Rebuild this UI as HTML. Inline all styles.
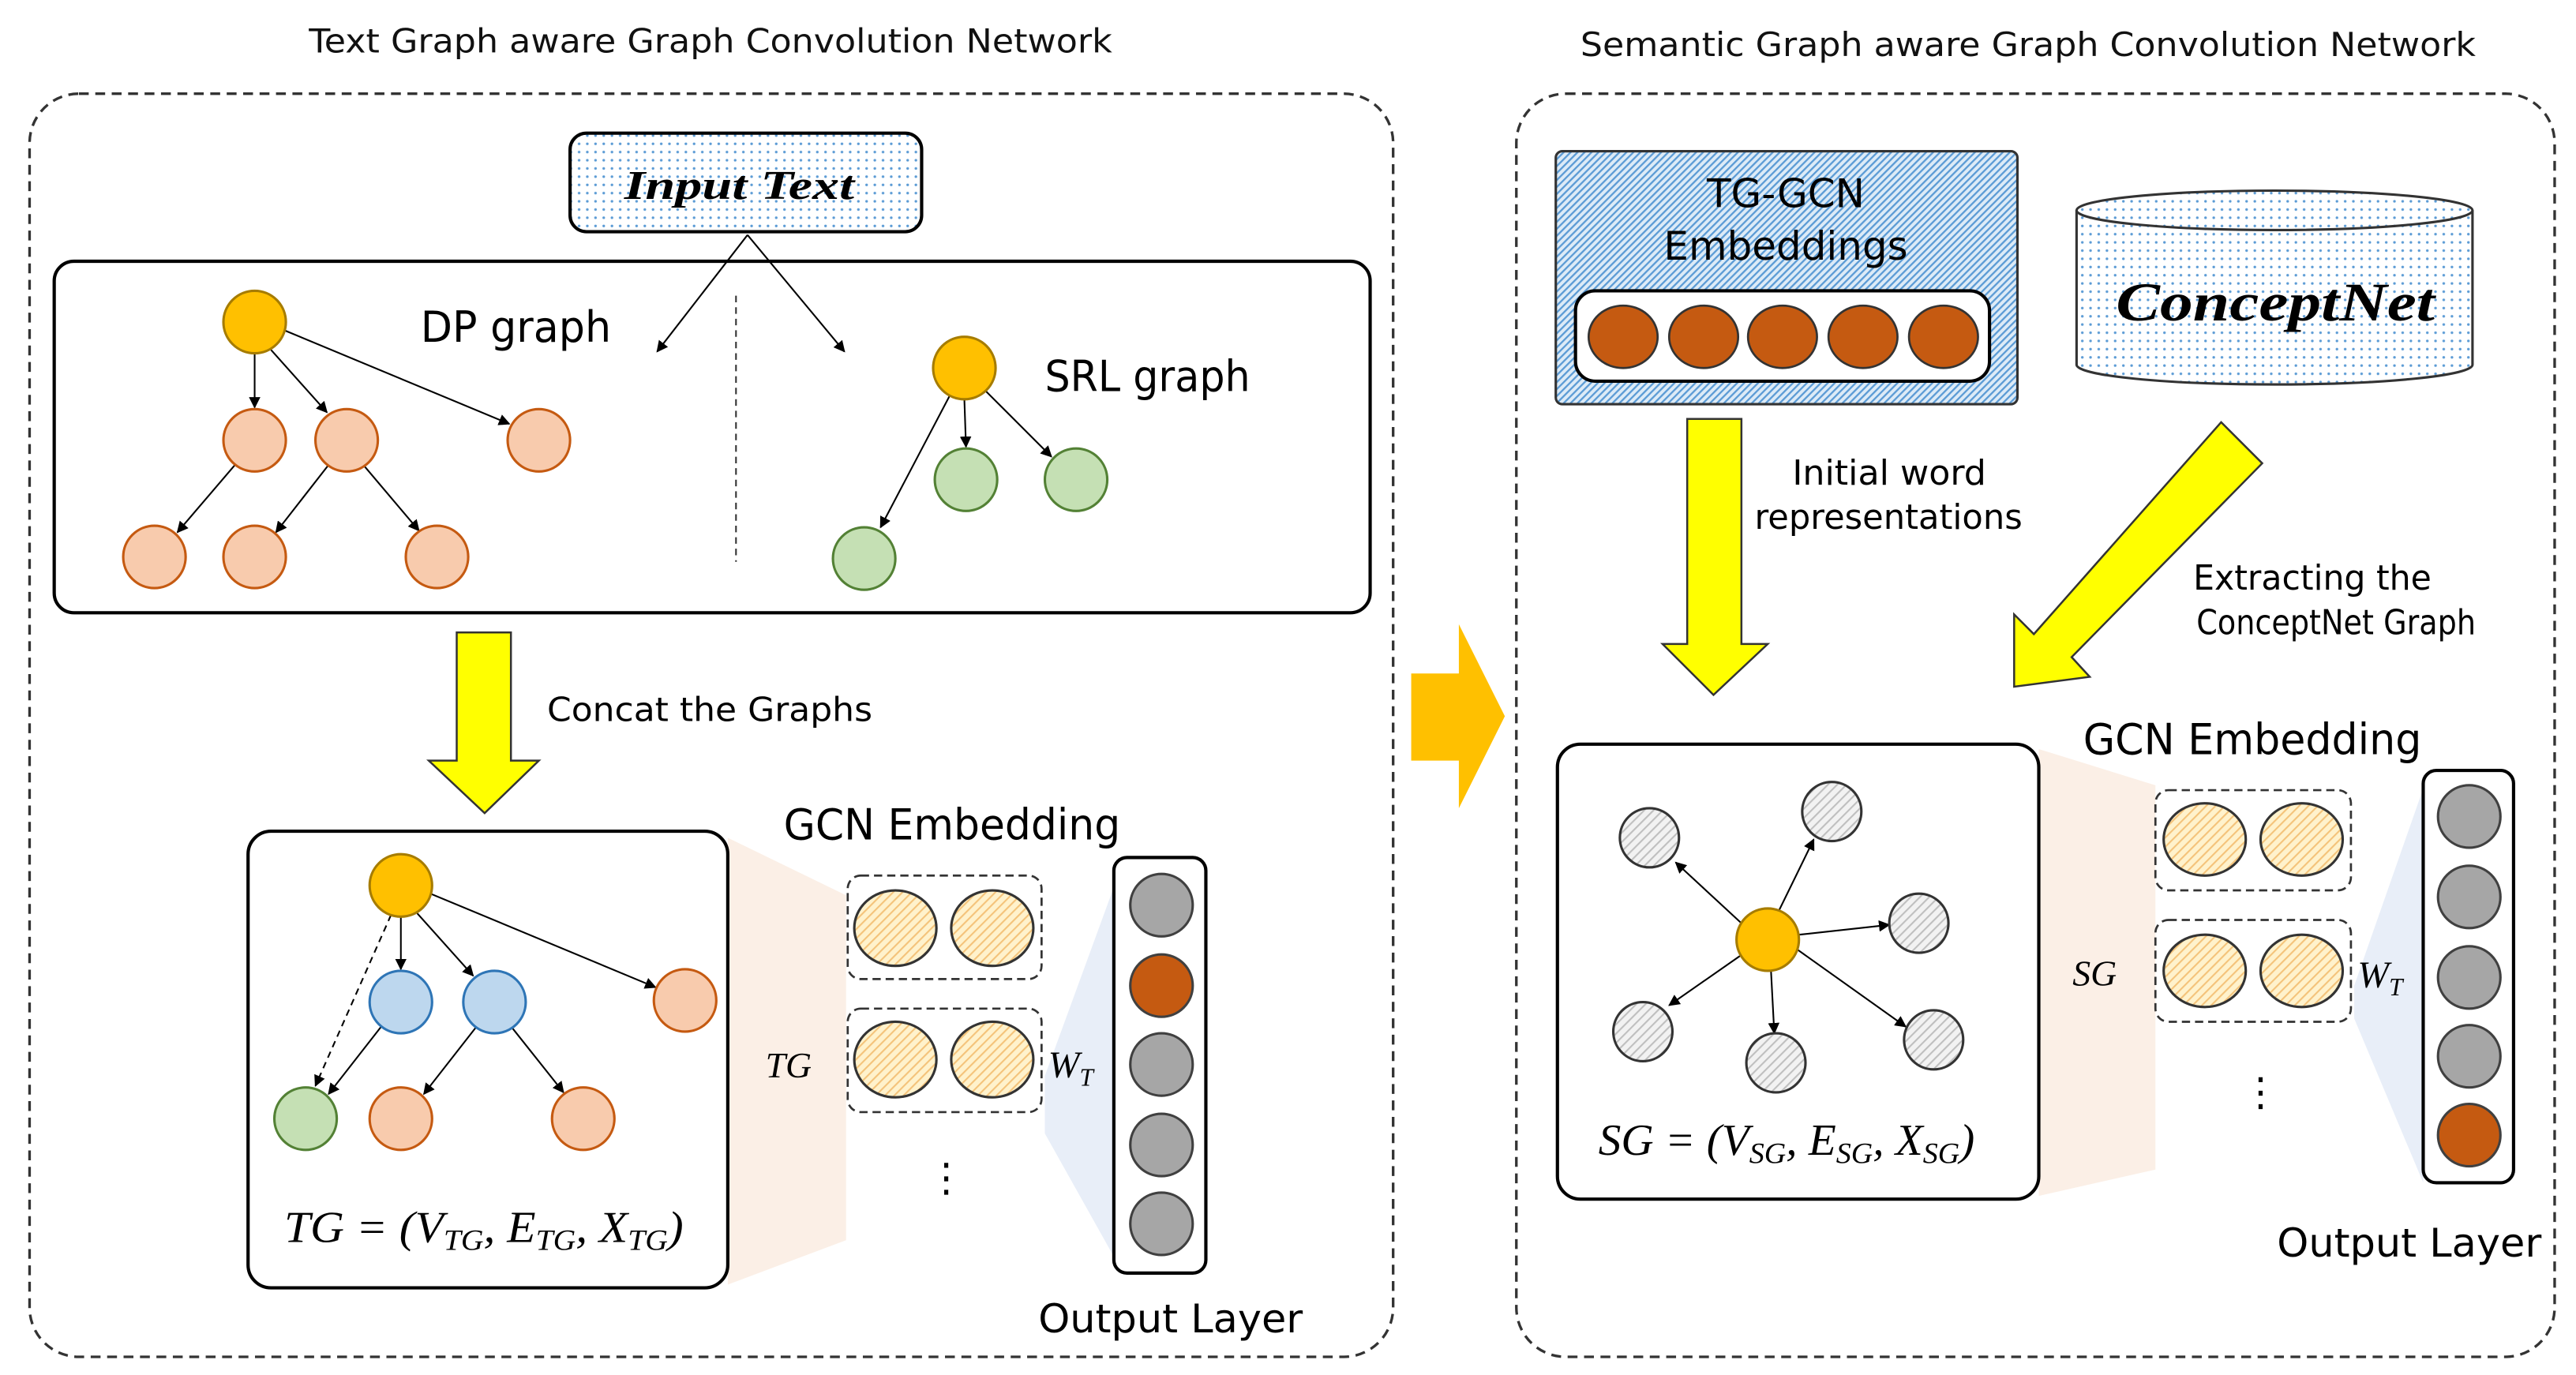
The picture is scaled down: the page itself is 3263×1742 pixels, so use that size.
<!DOCTYPE html>
<html><head><meta charset="utf-8"><style>html,body{margin:0;padding:0;background:#fff}svg{display:block}</style></head>
<body>
<svg width="3263" height="1742" viewBox="0 0 1568 837" xmlns="http://www.w3.org/2000/svg" font-family="DejaVu Sans, Liberation Sans, sans-serif">
<defs>
<marker id="ar" viewBox="0 0 10 10" refX="9" refY="5" markerWidth="7" markerHeight="7" orient="auto"><path d="M0,0L10,5L0,10z" fill="#000"/></marker>
<pattern id="dots" width="5" height="5" patternUnits="userSpaceOnUse"><rect width="5" height="5" fill="#fff"/><circle cx="2.5" cy="2.5" r="0.8" fill="#5B9BD5"/></pattern>
<pattern id="hb" width="3" height="3" patternUnits="userSpaceOnUse" patternTransform="rotate(45)"><rect width="3" height="3" fill="#DDEBF7"/><rect width="1.1" height="3" fill="#5B9BD5"/></pattern>
<pattern id="hy" width="4" height="4" patternUnits="userSpaceOnUse" patternTransform="rotate(45)"><rect width="4" height="4" fill="#FFF2CC"/><rect width="1" height="4" fill="#F4C37A"/></pattern>
<pattern id="hg" width="4" height="4" patternUnits="userSpaceOnUse" patternTransform="rotate(45)"><rect width="4" height="4" fill="#F2F2F2"/><rect width="1" height="4" fill="#BFBFBF"/></pattern>
</defs>
<g font-size="20" fill="#111">
<text x="188" y="32" textLength="489" lengthAdjust="spacingAndGlyphs">Text Graph aware Graph Convolution Network</text>
<text x="962" y="34" textLength="545" lengthAdjust="spacingAndGlyphs">Semantic Graph aware Graph Convolution Network</text>
</g>
<rect x="18" y="57" width="830" height="769" rx="30" fill="none" stroke="#333" stroke-width="1.6" stroke-dasharray="6,4"/>
<rect x="923" y="57" width="632" height="769" rx="30" fill="none" stroke="#333" stroke-width="1.6" stroke-dasharray="6,4"/>

<rect x="347" y="81" width="214" height="60" rx="10" fill="url(#dots)" stroke="#000" stroke-width="2"/>
<text x="380" y="121" textLength="140" lengthAdjust="spacingAndGlyphs" font-family="Liberation Serif, serif" font-weight="bold" font-style="italic" font-size="25">Input Text</text>
<rect x="33" y="159" width="801" height="214" rx="12" fill="#fff" stroke="#000" stroke-width="2"/>
<g stroke="#000" stroke-width="1" fill="none" marker-end="url(#ar)">
<line x1="455" y1="143" x2="400" y2="214"/><line x1="455" y1="143" x2="514" y2="214"/>
<line x1="155" y1="215" x2="155" y2="248"/><line x1="165" y1="213" x2="199" y2="251"/><line x1="173" y1="201" x2="310" y2="258"/>
<line x1="143" y1="283" x2="108" y2="324"/><line x1="200" y1="283" x2="168" y2="324"/><line x1="222" y1="284" x2="255" y2="323"/>
<line x1="587" y1="243" x2="588" y2="272"/><line x1="600" y1="238" x2="640" y2="278"/><line x1="578" y1="241" x2="536" y2="321"/>
</g>
<line x1="448" y1="180" x2="448" y2="342" stroke="#333" stroke-width="1" stroke-dasharray="4,3"/>
<g stroke-width="1.5">
<circle cx="155" cy="196" r="19" fill="#FFC000" stroke="#A67C00"/>
<g fill="#F8CBAD" stroke="#C55A11">
<circle cx="155" cy="268" r="19"/><circle cx="211" cy="268" r="19"/><circle cx="328" cy="268" r="19"/>
<circle cx="94" cy="339" r="19"/><circle cx="155" cy="339" r="19"/><circle cx="266" cy="339" r="19"/></g>
<circle cx="587" cy="224" r="19" fill="#FFC000" stroke="#A67C00"/>
<g fill="#C5E0B4" stroke="#538135"><circle cx="588" cy="292" r="19"/><circle cx="655" cy="292" r="19"/><circle cx="526" cy="340" r="19"/></g>
</g>
<text x="256" y="208" font-size="26" textLength="116" lengthAdjust="spacingAndGlyphs">DP graph</text>
<text x="636" y="238" font-size="26" textLength="125" lengthAdjust="spacingAndGlyphs">SRL graph</text>
<polygon points="278,385 311,385 311,463 328,463 295,495 261,463 278,463" fill="#FFFF00" stroke="#333" stroke-width="1.2"/>
<text x="333" y="439" font-size="20" textLength="198" lengthAdjust="spacingAndGlyphs">Concat the Graphs</text>

<polygon points="443,510 515,545 515,755 443,782" fill="#FBEFE6"/>
<rect x="151" y="506" width="292" height="278" rx="14" fill="#fff" stroke="#000" stroke-width="2"/>
<g stroke="#000" stroke-width="1" fill="none" marker-end="url(#ar)">
<line x1="244" y1="558" x2="244" y2="590"/><line x1="254" y1="556" x2="288" y2="594"/><line x1="262" y1="544" x2="399" y2="601"/>
<line x1="232" y1="625" x2="200" y2="666"/><line x1="290" y1="625" x2="258" y2="666"/><line x1="312" y1="626" x2="343" y2="665"/>
<line x1="238" y1="557" x2="192" y2="661" stroke-dasharray="4,3"/>
</g>
<g stroke-width="1.5">
<circle cx="244" cy="539" r="19" fill="#FFC000" stroke="#A67C00"/>
<g fill="#BDD7EE" stroke="#2E75B6"><circle cx="244" cy="610" r="19"/><circle cx="301" cy="610" r="19"/></g>
<g fill="#F8CBAD" stroke="#C55A11"><circle cx="417" cy="609" r="19"/><circle cx="244" cy="681" r="19"/><circle cx="355" cy="681" r="19"/></g>
<circle cx="186" cy="681" r="19" fill="#C5E0B4" stroke="#538135"/>
</g>
<text x="173" y="756" textLength="243" lengthAdjust="spacingAndGlyphs" font-family="Liberation Serif, serif" font-style="italic" font-size="27">TG = (V<tspan font-size="18" dy="5">TG</tspan><tspan dy="-5">, E</tspan><tspan font-size="18" dy="5">TG</tspan><tspan dy="-5">, X</tspan><tspan font-size="18" dy="5">TG</tspan><tspan dy="-5">)</tspan></text>
<text x="480" y="656" font-family="Liberation Serif, serif" font-style="italic" font-size="22" text-anchor="middle">TG</text>
<text x="477" y="511" font-size="26" textLength="205" lengthAdjust="spacingAndGlyphs">GCN Embedding</text>
<g fill="none" stroke="#333" stroke-width="1.3" stroke-dasharray="5,3">
<rect x="516" y="533" width="118" height="63" rx="8"/><rect x="516" y="614" width="118" height="63" rx="8"/></g>
<g fill="url(#hy)" stroke="#333" stroke-width="1.5">
<ellipse cx="545" cy="565" rx="25" ry="23"/><ellipse cx="604" cy="565" rx="25" ry="23"/>
<ellipse cx="545" cy="645" rx="25" ry="23"/><ellipse cx="604" cy="645" rx="25" ry="23"/></g>
<text x="576" y="725" font-size="24" text-anchor="middle">⋮</text>
<polygon points="636,655 678,540 678,765 636,690" fill="#E8EEF8"/>
<text x="638" y="656" font-family="Liberation Serif, serif" font-style="italic" font-size="23">W<tspan font-size="15" dy="5">T</tspan></text>
<rect x="678" y="522" width="56" height="253" rx="8" fill="#fff" stroke="#000" stroke-width="2"/>
<g stroke="#404040" stroke-width="1.5" fill="#A6A6A6">
<circle cx="707" cy="551" r="19"/><circle cx="707" cy="600" r="19" fill="#C55A11"/><circle cx="707" cy="648" r="19"/><circle cx="707" cy="697" r="19"/><circle cx="707" cy="745" r="19"/></g>
<text x="632" y="811" font-size="24" textLength="161" lengthAdjust="spacingAndGlyphs">Output Layer</text>

<polygon points="859,410 888,410 888,380 916,436 888,492 888,463 859,463" fill="#FFC000"/>

<rect x="947" y="92" width="281" height="154" rx="4" fill="url(#hb)" stroke="#333" stroke-width="1.5"/>
<text x="1087" y="126" font-size="24" text-anchor="middle">TG-GCN</text>
<text x="1087" y="158" font-size="24" text-anchor="middle">Embeddings</text>
<rect x="959" y="177" width="252" height="55" rx="12" fill="#fff" stroke="#000" stroke-width="2"/>
<g fill="#C55A11" stroke="#333" stroke-width="1.3">
<ellipse cx="988" cy="205" rx="21" ry="19"/><ellipse cx="1037" cy="205" rx="21" ry="19"/><ellipse cx="1085" cy="205" rx="21" ry="19"/><ellipse cx="1134" cy="205" rx="21" ry="19"/><ellipse cx="1183" cy="205" rx="21" ry="19"/></g>
<path d="M1264,128 L1264,222 A120.5,12 0 0 0 1505,222 L1505,128 A120.5,12 0 0 0 1264,128 Z" fill="url(#dots)" stroke="#333" stroke-width="1.5"/>
<path d="M1264,128 A120.5,12 0 0 0 1505,128" fill="none" stroke="#333" stroke-width="1.5"/>
<text x="1288" y="195" textLength="194" lengthAdjust="spacingAndGlyphs" font-family="Liberation Serif, serif" font-weight="bold" font-style="italic" font-size="33">ConceptNet</text>
<polygon points="1027,255 1060,255 1060,392 1076,392 1043,423 1012,392 1027,392" fill="#FFFF00" stroke="#333" stroke-width="1.2"/>
<text x="1091" y="295" font-size="21" textLength="118" lengthAdjust="spacingAndGlyphs">Initial word</text>
<text x="1068" y="322" font-size="21" textLength="163" lengthAdjust="spacingAndGlyphs">representations</text>
<polygon points="1352,257 1377,282 1261,400 1272,412 1226,418 1226,374 1238,386" fill="#FFFF00" stroke="#333" stroke-width="1.2"/>
<text x="1335" y="359" font-size="21" textLength="145" lengthAdjust="spacingAndGlyphs">Extracting the</text>
<text x="1337" y="386" font-size="21" textLength="170" lengthAdjust="spacingAndGlyphs">ConceptNet Graph</text>
<text x="1268" y="459" font-size="26" textLength="206" lengthAdjust="spacingAndGlyphs">GCN Embedding</text>
<polygon points="1241,456 1312,478 1312,712 1241,728" fill="#FBEFE6"/>
<rect x="948" y="453" width="293" height="277" rx="14" fill="#fff" stroke="#000" stroke-width="2"/>
<g stroke="#000" stroke-width="1" fill="none" marker-end="url(#ar)">
<line x1="1060" y1="562" x2="1020" y2="525"/><line x1="1083" y1="554" x2="1104" y2="511"/><line x1="1095" y1="569" x2="1150" y2="563"/>
<line x1="1059" y1="582" x2="1016" y2="612"/><line x1="1078" y1="591" x2="1080" y2="629"/><line x1="1094" y1="578" x2="1160" y2="625"/>
</g>
<circle cx="1076" cy="572" r="19" fill="#FFC000" stroke="#A67C00" stroke-width="1.5"/>
<g fill="url(#hg)" stroke="#333" stroke-width="1.5">
<circle cx="1004" cy="510" r="18"/><circle cx="1115" cy="494" r="18"/><circle cx="1168" cy="562" r="18"/>
<circle cx="1000" cy="628" r="18"/><circle cx="1081" cy="647" r="18"/><circle cx="1177" cy="633" r="18"/></g>
<text x="973" y="703" textLength="229" lengthAdjust="spacingAndGlyphs" font-family="Liberation Serif, serif" font-style="italic" font-size="27">SG = (V<tspan font-size="18" dy="5">SG</tspan><tspan dy="-5">, E</tspan><tspan font-size="18" dy="5">SG</tspan><tspan dy="-5">, X</tspan><tspan font-size="18" dy="5">SG</tspan><tspan dy="-5">)</tspan></text>
<text x="1275" y="600" font-family="Liberation Serif, serif" font-style="italic" font-size="22" text-anchor="middle">SG</text>
<g fill="none" stroke="#333" stroke-width="1.3" stroke-dasharray="5,3">
<rect x="1312" y="481" width="119" height="61" rx="8"/><rect x="1312" y="560" width="119" height="62" rx="8"/></g>
<g fill="url(#hy)" stroke="#333" stroke-width="1.5">
<ellipse cx="1342" cy="511" rx="25" ry="22"/><ellipse cx="1401" cy="511" rx="25" ry="22"/>
<ellipse cx="1342" cy="591" rx="25" ry="22"/><ellipse cx="1401" cy="591" rx="25" ry="22"/></g>
<text x="1376" y="673" font-size="24" text-anchor="middle">⋮</text>
<polygon points="1433,600 1475,480 1475,720 1433,620" fill="#E8EEF8"/>
<text x="1435" y="601" font-family="Liberation Serif, serif" font-style="italic" font-size="23">W<tspan font-size="15" dy="5">T</tspan></text>
<rect x="1475" y="469" width="55" height="251" rx="8" fill="#fff" stroke="#000" stroke-width="2"/>
<g stroke="#404040" stroke-width="1.5" fill="#A6A6A6">
<circle cx="1503" cy="497" r="19"/><circle cx="1503" cy="546" r="19"/><circle cx="1503" cy="595" r="19"/><circle cx="1503" cy="643" r="19"/><circle cx="1503" cy="691" r="19" fill="#C55A11"/></g>
<text x="1386" y="765" font-size="24" textLength="161" lengthAdjust="spacingAndGlyphs">Output Layer</text>
</svg>
</body></html>
